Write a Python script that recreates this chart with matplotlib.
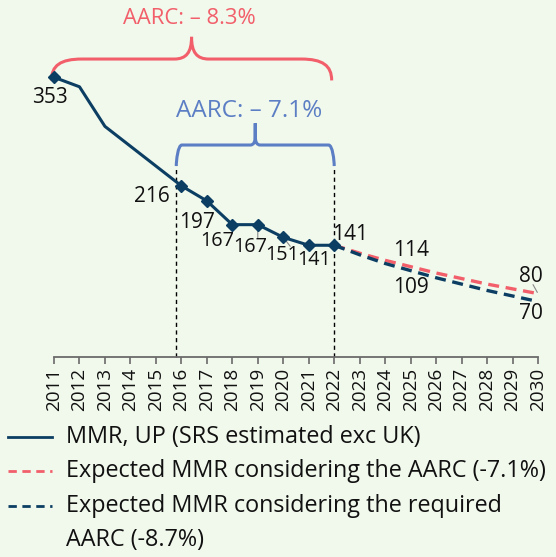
import matplotlib
matplotlib.use("Agg")
import matplotlib.pyplot as plt
from matplotlib.path import Path
from matplotlib.patches import PathPatch
from matplotlib.lines import Line2D

plt.rcParams['font.family'] = ['Open Sans', 'DejaVu Sans']

# Data
years_obs = [2011, 2012, 2013, 2016, 2017, 2018, 2019, 2020, 2021, 2022]
mmr_obs = [353, 341, 291, 216, 197, 167, 167, 151, 141, 141]
marker_years = [2011, 2016, 2017, 2018, 2019, 2020, 2021, 2022]

years_proj = [2022, 2023, 2024, 2025, 2026, 2027, 2028, 2029, 2030]
mmr_expected = [141, 131, 122, 114, 106, 99, 92, 86, 80]
mmr_required = [141, 129, 118, 109, 100, 92, 84, 77, 70]

all_years = list(range(2011, 2031))

legend_labels = ['MMR, UP (SRS estimated exc UK)',
                 'Expected MMR considering the AARC (-7.1%)',
                 'Expected MMR considering the required\nAARC (-8.7%)']

navy = '#0b3e62'
red = '#f25f6a'
blue = '#5b7ec4'
bg = '#f1f8ec'
txt = '#111111'

fig = plt.figure(figsize=(5.56, 5.57), dpi=100, facecolor=bg)
ax = fig.add_axes([54 / 556, 1 - 357 / 557, 484 / 556, 357 / 557])
ax.set_facecolor(bg)
ax.set_xlim(2011, 2030)
ax.set_ylim(0, 450.5)

# main series
ax.plot(years_obs, mmr_obs, color=navy, lw=2.2, zorder=4, clip_on=False)
mk_vals = [mmr_obs[years_obs.index(y)] for y in marker_years]
ax.plot(marker_years, mk_vals, 'D', color=navy, ms=6.5, zorder=5, clip_on=False)

# projections
ax.plot(years_proj, mmr_expected, color=red, lw=2.4, dashes=(3.3, 2.0), zorder=3, clip_on=False)
ax.plot(years_proj, mmr_required, color=navy, lw=2.4, dashes=(3.3, 2.0), zorder=3, clip_on=False)

# dashed guides
ax.plot([2015.8, 2015.8], [0, 241], color='black', lw=1, ls=(0, (3, 2.5)), zorder=2, clip_on=False)
ax.plot([2022, 2022], [0, 241], color='black', lw=1, ls=(0, (3, 2.5)), zorder=2, clip_on=False)


def brace(x0, x1, y_end, y_mid, y_top, rx, ry, cx, cy, color):
    xm = (x0 + x1) / 2
    verts = [
        (x0, y_end), (x0, y_end + ry * 0.7), (x0 + rx * 0.3, y_mid), (x0 + rx, y_mid),
        (xm - cx, y_mid),
        (xm - cx * 0.3, y_mid), (xm, y_mid + cy * 0.3), (xm, y_mid + cy),
        (xm, y_top),
        (xm, y_top), (xm, y_mid + cy),
        (xm, y_mid + cy * 0.3), (xm + cx * 0.3, y_mid), (xm + cx, y_mid),
        (x1 - rx, y_mid),
        (x1 - rx * 0.3, y_mid), (x1, y_end + ry * 0.7), (x1, y_end),
    ]
    codes = [Path.MOVETO, Path.CURVE4, Path.CURVE4, Path.CURVE4,
             Path.LINETO,
             Path.CURVE4, Path.CURVE4, Path.CURVE4,
             Path.LINETO,
             Path.MOVETO, Path.LINETO,
             Path.CURVE4, Path.CURVE4, Path.CURVE4,
             Path.LINETO,
             Path.CURVE4, Path.CURVE4, Path.CURVE4]
    p = PathPatch(Path(verts, codes), fill=False, ec=color, lw=2.2, clip_on=False,
                  capstyle='butt', joinstyle='round')
    ax.add_patch(p)


brace(2010.9, 2021.9, 349, 376, 404, 1.2, 27, 0.68, 28, red)
ax.text(2016.3, 427, 'AARC: – 8.3%', color=red, fontsize=15.8, ha='center', va='center')
brace(2015.8, 2022.0, 241, 267.5, 295, 0.22, 10, 0.2, 12, blue)
ax.text(2018.65, 311, 'AARC: – 7.1%', color=blue, fontsize=17.5, ha='center', va='center')

# labels (offsets in pixels, converted to points)
lab_fs = 15
tight_fs = 14.3
pt = 0.72
obs_offsets = {2011: (-4, -20), 2016: (-29, -11), 2017: (-10, -22), 2018: (-15, -16),
               2019: (-8, -22), 2020: (-1, -18), 2021: (5, -15), 2022: (16, 11)}
tight_years = [2018, 2019, 2020, 2021]
for y in marker_years:
    v = mmr_obs[years_obs.index(y)]
    dx, dy = obs_offsets[y]
    ax.annotate(str(v), (y, v), xytext=(dx * pt, dy * pt), textcoords='offset points',
                ha='center', va='center', color=txt, zorder=6, annotation_clip=False,
                fontsize=tight_fs if y in tight_years else lab_fs)
for y in [2019, 2020]:
    v = mmr_obs[years_obs.index(y)]
    dx, dy = obs_offsets[y]
    ax.annotate('', (y, v), xytext=((dx + 8) * pt, (dy + 9) * pt),
                textcoords='offset points',
                arrowprops=dict(arrowstyle='-', color='#888888', lw=0.8, shrinkA=0, shrinkB=2))

i25 = years_proj.index(2025)
ax.annotate(str(mmr_expected[i25]), (2025, mmr_expected[i25]), xytext=(0, 16 * pt),
            textcoords='offset points', ha='center', va='center', fontsize=lab_fs, color=txt)
ax.annotate(str(mmr_required[i25]), (2025, mmr_required[i25]), xytext=(0, -17 * pt),
            textcoords='offset points', ha='center', va='center', fontsize=lab_fs, color=txt)
ax.annotate(str(mmr_expected[-1]), (2030, mmr_expected[-1]), xytext=(-7 * pt, 17 * pt),
            textcoords='offset points', ha='center', va='center', fontsize=lab_fs, color=txt,
            annotation_clip=False)
ax.annotate('', (2030, mmr_expected[-1]), xytext=(-5 * pt, 9 * pt), textcoords='offset points',
            arrowprops=dict(arrowstyle='-', color='#888888', lw=0.8, shrinkA=0, shrinkB=1),
            annotation_clip=False)
ax.annotate(str(mmr_required[-1]), (2030, mmr_required[-1]), xytext=(-7 * pt, -12 * pt),
            textcoords='offset points', ha='center', va='center', fontsize=lab_fs, color=txt,
            annotation_clip=False)

# axes styling
for s in ['left', 'right', 'top']:
    ax.spines[s].set_visible(False)
ax.spines['bottom'].set_color('#6b6b6b')
ax.spines['bottom'].set_linewidth(1.3)
ax.set_yticks([])
ax.set_xticks(all_years)
ax.set_xticklabels([str(y) for y in all_years], rotation=90, fontsize=13.6, color=txt)
ax.tick_params(axis='x', length=5, width=1.2, color='#6b6b6b', pad=3)

# legend drawn by hand so the wrapped entry keeps its handle on the first line
W, H = 556, 557
handle_styles = [dict(color=navy, lw=2),
                 dict(color=red, lw=2, dashes=(3, 2)),
                 dict(color=navy, lw=2, dashes=(3, 2))]
rows = [437, 471, 506]
for yrow, style, label in zip(rows, handle_styles, legend_labels):
    yf = 1 - yrow / H
    fig.add_artist(Line2D([8 / W, 52 / W], [yf, yf], transform=fig.transFigure, **style))
    lines = label.split('\n')
    for k, line in enumerate(lines):
        fig.text(66 / W, 1 - (yrow + 34 * k) / H, line, fontsize=16.8, color=txt,
                 ha='left', va='center')

fig.savefig('out.png', dpi=100, facecolor=bg)
